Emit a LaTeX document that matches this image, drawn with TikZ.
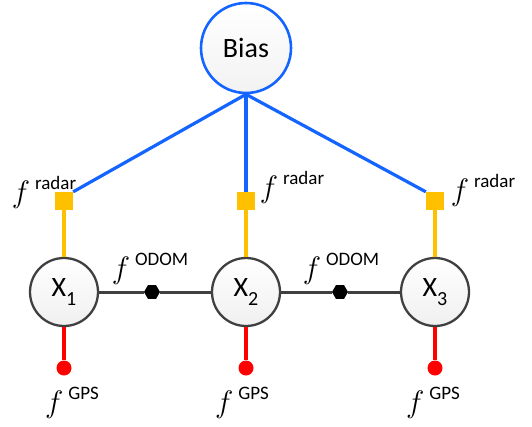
\documentclass[tikz,border=0pt]{standalone}
\usepackage{fix-cm}
\usepackage{fontspec}
\setmainfont{Carlito}
\usetikzlibrary{shapes.geometric}

\definecolor{biasblue}{RGB}{20,100,255}
\definecolor{radaryellow}{RGB}{255,192,0}
\definecolor{gpsred}{RGB}{255,0,0}
\definecolor{edgegray}{RGB}{64,64,64}

\newcommand{\fac}[1]{{\fontsize{31}{31}\selectfont$f$}\hspace{5pt}\raisebox{13pt}{\fontsize{19}{19}\selectfont #1}}
\newcommand{\var}[1]{X\raisebox{-9pt}{\fontsize{20}{20}\selectfont #1}}

\begin{document}
\begin{tikzpicture}[x=1pt,y=-1pt,
  biasnode/.style={circle, draw=biasblue, line width=2.6pt, top color=white, bottom color=gray!10,
    minimum size=90pt, inner sep=0pt, font=\fontsize{28}{28}\selectfont},
  varnode/.style={circle, draw=edgegray, line width=2.3pt, top color=white, bottom color=gray!12,
    minimum size=68pt, inner sep=0pt, font=\fontsize{28}{28}\selectfont},
  radarbox/.style={rectangle, fill=radaryellow, minimum size=18pt, inner sep=0pt},
  gpsdot/.style={circle, fill=gpsred, minimum size=15pt, inner sep=0pt},
  odomhex/.style={regular polygon, regular polygon sides=6, fill=black, minimum size=16pt, inner sep=0pt},
  lbl/.style={inner sep=0pt}]

 \useasboundingbox (0,0) rectangle (532,426);

 \node[biasnode] (bias) at (246,48) {Bias};

 % variables and their factors
 \foreach \i/\x/\corner in {1/64/north east, 2/246/north, 3/435/north west} {
   \node[varnode] (x\i) at (\x,292) {\var{\i}};
   \node[radarbox] (r\i) at (\x,201) {};
   \node[gpsdot] (g\i) at (\x,368) {};
   \draw[radaryellow, line width=3.2pt] (r\i) -- (x\i);
   \draw[gpsred, line width=3.2pt] (x\i) -- (g\i);
   \draw[biasblue, line width=3.2pt] (bias.south) -- (r\i.\corner);
 }

 % odometry
 \node[odomhex] (o1) at (152,292) {};
 \node[odomhex] (o2) at (340,292) {};
 \foreach \a/\o/\b in {x1/o1/x2, x2/o2/x3}
   \draw[edgegray, line width=3pt] (\a) -- (\o) -- (\b);

 % labels
 \node[lbl] (lr1) at (44,192) {\fac{radar}};
 \node[lbl] (lr2) at (292,187) {\fac{radar}};
 \node[lbl] (lr3) at (483,190) {\fac{radar}};
 \node[lbl] (lo1) at (150,269) {\fac{ODOM}};
 \node[lbl] (lo2) at (341,269) {\fac{ODOM}};
 \node[lbl] (lg1) at (72,403) {\fac{GPS}};
 \node[lbl] (lg2) at (242,403) {\fac{GPS}};
 \node[lbl] (lg3) at (433,403) {\fac{GPS}};

\end{tikzpicture}
\end{document}
